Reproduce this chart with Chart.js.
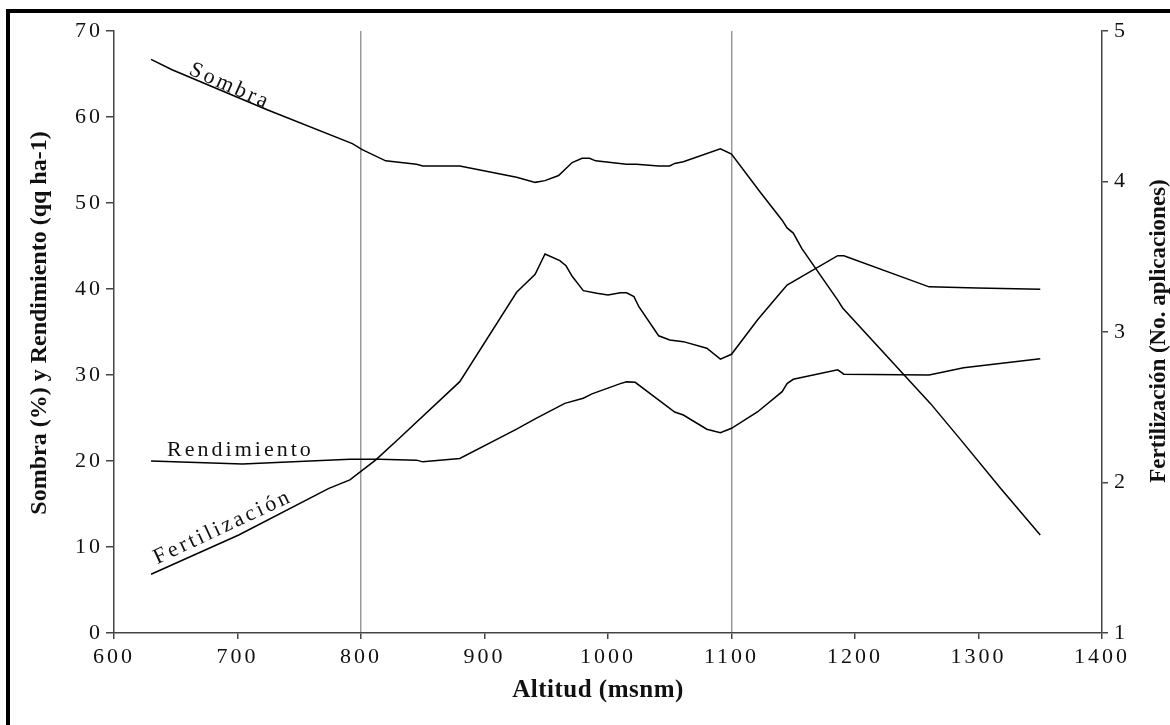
<!DOCTYPE html>
<html>
<head>
<meta charset="utf-8">
<script src="https://cdn.jsdelivr.net/npm/chart.js@4.4.0/dist/chart.umd.min.js"></script>
<style>
  html, body { margin: 0; padding: 0; background: #fff; overflow: hidden; }
  #frame { position: absolute; left: 6px; top: 9px; width: 1300px; height: 900px; border: 4px solid #000; box-sizing: border-box; }
  #wrap { position: absolute; left: 0; top: 0; width: 1170px; height: 725px; }
</style>
</head>
<body>
<div id="frame"></div>
<div id="wrap"><canvas id="chart" width="1170" height="725"></canvas></div>
<script>
// values
const altSombra = [630, 647, 723, 793, 801, 820, 845, 850, 880, 926, 941, 949, 960, 971, 979, 985, 990, 1015, 1023, 1041, 1050, 1054, 1061, 1091, 1100, 1123, 1141, 1145, 1150, 1157, 1186, 1190, 1261, 1286, 1318, 1350];
const sombra = [66.7, 65.5, 60.9, 56.9, 56.2, 54.9, 54.5, 54.3, 54.3, 53.0, 52.4, 52.6, 53.2, 54.7, 55.2, 55.2, 54.9, 54.5, 54.5, 54.3, 54.3, 54.6, 54.8, 56.3, 55.7, 51.3, 48.0, 47.1, 46.5, 44.7, 38.7, 37.8, 26.7, 22.4, 16.8, 11.4];

const altRendimiento = [630, 704, 791, 815, 845, 850, 880, 926, 941, 965, 980, 987, 1010, 1015, 1022, 1054, 1061, 1080, 1091, 1100, 1121, 1141, 1145, 1150, 1186, 1191, 1260, 1288, 1350];
const rendimiento = [20.0, 19.65, 20.2, 20.2, 20.1, 19.9, 20.3, 23.7, 24.9, 26.7, 27.3, 27.8, 29.0, 29.2, 29.15, 25.7, 25.35, 23.7, 23.3, 23.8, 25.7, 28.06, 29.0, 29.5, 30.6, 30.1, 30.0, 30.85, 31.9];

// Fertilización on the right axis (No. aplicaciones)
const altFertilizacion = [630, 701, 774, 791, 812, 831, 880, 926, 941, 949, 961, 966, 971, 980, 991, 1000, 1010, 1015, 1021, 1025, 1041, 1050, 1061, 1080, 1091, 1100, 1121, 1140, 1145, 1186, 1191, 1260, 1299, 1350];
const fertilizacion = [1.39, 1.651, 1.961, 2.017, 2.15, 2.294, 2.67, 3.264, 3.383, 3.518, 3.474, 3.44, 3.37, 3.275, 3.257, 3.246, 3.261, 3.261, 3.235, 3.168, 2.975, 2.947, 2.936, 2.892, 2.82, 2.852, 3.08, 3.264, 3.312, 3.507, 3.507, 3.30, 3.292, 3.284];

const xTicks = [600, 700, 800, 900, 1000, 1100, 1200, 1300, 1400];
const leftTicks = [0, 10, 20, 30, 40, 50, 60, 70];
const rightTicks = [1, 2, 3, 4, 5];
const gridAlt = [800, 1100];

// curve labels, placed in data coordinates (left axis)
const curveLabels = [
  { text: "Sombra", x: 660, y: 65.0, angle: 24 },
  { text: "Rendimiento", x: 643, y: 20.6, angle: 0 },
  { text: "Fertilización", x: 635, y: 8.0, angle: -25 },
];

const serif = "'Liberation Serif', 'Times New Roman', serif";

function zip(xs, ys) {
  return xs.map((x, i) => ({ x, y: ys[i] }));
}

function setTicks(values) {
  return (scale) => {
    scale.ticks = values.map((v) => ({ value: v }));
  };
}

function drawText(ctx, text, x, y, angle, font, spacing, baseline) {
  ctx.save();
  ctx.translate(x, y);
  ctx.rotate((angle * Math.PI) / 180);
  ctx.font = font;
  ctx.letterSpacing = spacing + "px";
  ctx.textAlign = baseline === "middle" ? "center" : "left";
  ctx.textBaseline = baseline;
  ctx.fillStyle = "#111";
  ctx.fillText(text, 0, 0);
  ctx.restore();
}

const textPlugin = {
  id: "texts",
  beforeDraw(chart) {
    chart.ctx.letterSpacing = "3px";
  },
  beforeDatasetsDraw(chart) {
    chart.ctx.letterSpacing = "0px";
  },
  afterDraw(chart) {
    const ctx = chart.ctx;
    const xs = chart.scales.x;
    const ys = chart.scales.y;
    curveLabels.forEach((l) => {
      drawText(ctx, l.text, xs.getPixelForValue(l.x), ys.getPixelForValue(l.y), l.angle, `22px ${serif}`, 3, "alphabetic");
    });
    drawText(ctx, "Sombra (%) y Rendimiento (qq ha-1)", 40, 323, -90, `bold 24px ${serif}`, 0, "middle");
    drawText(ctx, "Fertilización (No. aplicaciones)", 1159, 331, -90, `bold 23px ${serif}`, 0, "middle");
    drawText(ctx, "Altitud (msnm)", 598, 691, 0, `bold 25px ${serif}`, 0.5, "middle");
  },
};

const lineStyle = {
  borderColor: "#000",
  borderWidth: 1.5,
  pointRadius: 0,
  tension: 0,
  fill: false,
};

const plain = (v) => String(v);

new Chart(document.getElementById("chart"), {
  type: "line",
  data: {
    datasets: [
      { label: "Sombra", data: zip(altSombra, sombra), yAxisID: "y", ...lineStyle },
      { label: "Rendimiento", data: zip(altRendimiento, rendimiento), yAxisID: "y", ...lineStyle },
      { label: "Fertilización", data: zip(altFertilizacion, fertilizacion), yAxisID: "y1", ...lineStyle },
    ],
  },
  options: {
    responsive: false,
    animation: false,
    layout: { padding: { top: 31, left: 0, right: 0, bottom: 0 } },
    plugins: { legend: { display: false }, tooltip: { enabled: false } },
    scales: {
      x: {
        type: "linear",
        min: 600,
        max: 1400,
        afterBuildTicks: setTicks(xTicks),
        afterFit: (s) => { s.height = 92; },
        border: { color: "#444", width: 1.5 },
        grid: {
          color: (c) => (c.tick && gridAlt.includes(c.tick.value) ? "#999" : "rgba(0,0,0,0)"),
          lineWidth: 1.5,
          tickColor: "#444",
          tickLength: 6,
        },
        ticks: { color: "#111", padding: 5, maxRotation: 0, callback: plain, font: { family: serif, size: 22 } },
      },
      y: {
        position: "left",
        min: 0,
        max: 70,
        afterBuildTicks: setTicks(leftTicks),
        afterFit: (s) => { s.width = 114; },
        border: { color: "#444", width: 1.5 },
        grid: { drawOnChartArea: false, tickColor: "#444", tickLength: 8, lineWidth: 1.5 },
        ticks: { color: "#111", padding: 3, callback: plain, font: { family: serif, size: 22 } },
      },
      y1: {
        position: "right",
        min: 1,
        max: 5,
        afterBuildTicks: setTicks(rightTicks),
        afterFit: (s) => { s.width = 68; },
        border: { color: "#444", width: 1.5 },
        grid: { drawOnChartArea: false, tickColor: "#444", tickLength: 6, lineWidth: 1.5 },
        ticks: { color: "#111", padding: 6, callback: plain, font: { family: serif, size: 22 } },
      },
    },
  },
  plugins: [textPlugin],
});
</script>
</body>
</html>
